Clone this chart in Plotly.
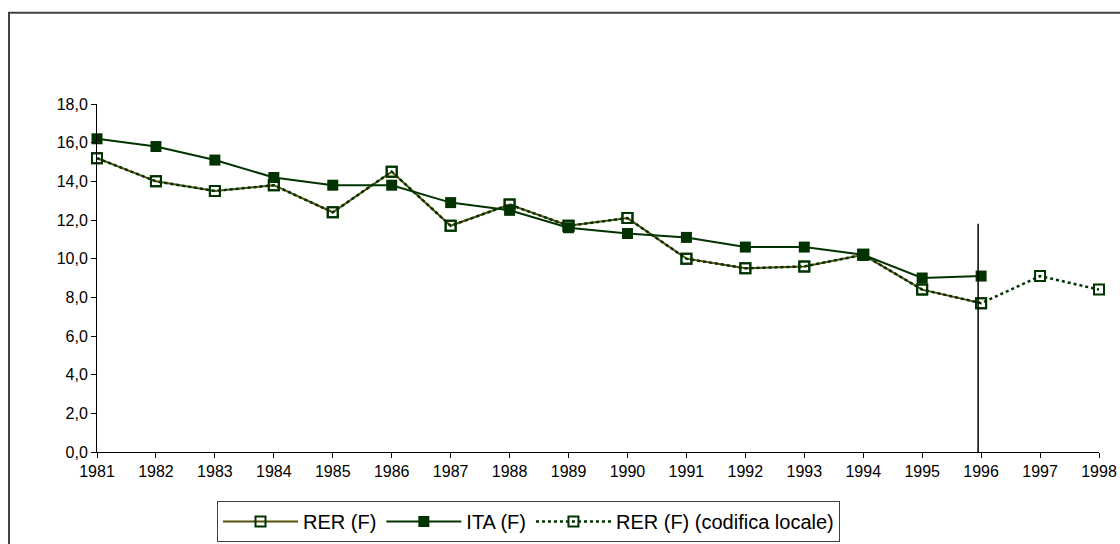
import plotly.graph_objects as go

years = list(range(1981, 1999))
years_main = list(range(1981, 1997))

rer_f = [15.2, 14.0, 13.5, 13.8, 12.4, 14.5, 11.7, 12.8, 11.7, 12.1, 10.0, 9.5, 9.6, 10.2, 8.4, 7.7]
ita_f = [16.2, 15.8, 15.1, 14.2, 13.8, 13.8, 12.9, 12.5, 11.6, 11.3, 11.1, 10.6, 10.6, 10.2, 9.0, 9.1]
rer_local = [15.2, 14.0, 13.5, 13.8, 12.4, 14.5, 11.7, 12.8, 11.7, 12.1, 10.0, 9.5, 9.6, 10.2, 8.4, 7.7, 9.1, 8.4]

y_ticks = [0, 2, 4, 6, 8, 10, 12, 14, 16, 18]
divider_year = 1996
divider_top = 11.8

DARK_GREEN = "#003300"
OLIVE = "#57500a"
FONT = "Liberation Sans, Arial, sans-serif"

fig = go.Figure()
fig.add_trace(go.Scatter(
    x=years_main, y=rer_f, name="RER (F)", mode="lines+markers",
    line=dict(color=OLIVE, width=2),
    marker=dict(symbol="square-open", size=10, color=DARK_GREEN, line=dict(width=2, color=DARK_GREEN)),
    cliponaxis=False,
))
fig.add_trace(go.Scatter(
    x=years_main, y=ita_f, name="ITA (F)", mode="lines+markers",
    line=dict(color=DARK_GREEN, width=2),
    marker=dict(symbol="square", size=11, color=DARK_GREEN),
    cliponaxis=False,
))
fig.add_trace(go.Scatter(
    x=years, y=rer_local, name="RER (F) (codifica locale)", mode="lines+markers",
    line=dict(color=DARK_GREEN, width=2.5, dash="dot"),
    marker=dict(symbol="square-open", size=10, color=DARK_GREEN, line=dict(width=2, color=DARK_GREEN)),
    cliponaxis=False,
))

fig.add_shape(type="line", xref="x", yref="y", xsizemode="pixel", xanchor=divider_year,
              x0=-3, x1=-3, y0=0, y1=divider_top, line=dict(color="black", width=1.5))

fig.add_shape(type="rect", xref="paper", yref="paper",
              x0=-0.0878, x1=1.2, y0=-0.5, y1=1.262,
              line=dict(color="#404040", width=2), fillcolor="rgba(0,0,0,0)")

fig.update_layout(
    width=1120, height=544, autosize=False,
    margin=dict(l=97, r=21, t=103.5, b=91.5, autoexpand=False),
    paper_bgcolor="white", plot_bgcolor="white",
    separators=",.",
    font=dict(family=FONT, size=16, color="black"),
    showlegend=True,
    legend=dict(
        orientation="h", xref="container", yref="container",
        x=217 / 1120, y=1 - 501 / 544, xanchor="left", yanchor="top",
        bordercolor="#404040", borderwidth=1, bgcolor="white",
        font=dict(family=FONT, size=20, color="black"),
        itemwidth=75, tracegroupgap=0,
    ),
    xaxis=dict(
        range=[1981, 1998], tickmode="array", tickvals=years, ticktext=[str(y) for y in years],
        showgrid=False, zeroline=False, showline=True, linecolor="black", linewidth=1,
        ticks="outside", ticklen=5, tickcolor="black",
        tickfont=dict(family=FONT, size=16), fixedrange=True,
    ),
    yaxis=dict(
        range=[0, 18], tickmode="array", tickvals=y_ticks, tickformat=".1f",
        showgrid=False, zeroline=False, showline=True, linecolor="black", linewidth=1,
        ticks="outside", ticklen=5, tickcolor="black",
        tickfont=dict(family=FONT, size=16), fixedrange=True,
    ),
)

fig.write_html("out.html")
